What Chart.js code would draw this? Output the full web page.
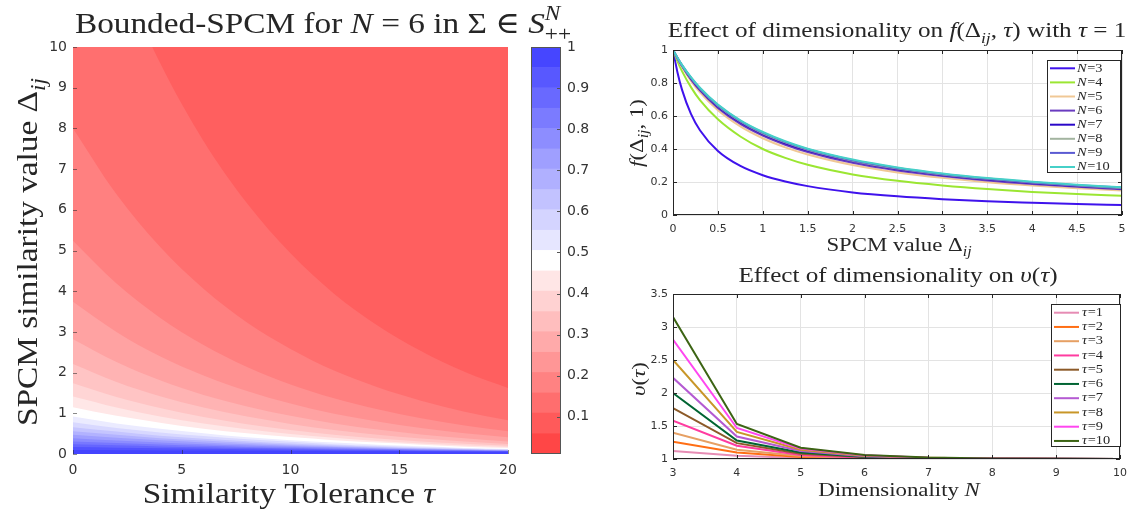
<!DOCTYPE html>
<html>
<head>
<meta charset="utf-8">
<script src="https://cdn.jsdelivr.net/npm/chart.js@4.4.1/dist/chart.umd.min.js"></script>
<style>
  html, body { margin: 0; padding: 0; background: #fff; }
  #wrap { position: relative; width: 1135px; height: 510px; overflow: hidden; }
  canvas { position: absolute; }
</style>
</head>
<body>
<div id="wrap">
  <canvas id="heat" width="600" height="510" style="left:0;top:0;width:600px;height:510px"></canvas>
  <canvas id="cbar" width="80" height="510" style="left:520px;top:0;width:80px;height:510px"></canvas>
  <canvas id="dim" width="535" height="260" style="left:600px;top:0;width:535px;height:260px"></canvas>
  <canvas id="ups" width="535" height="250" style="left:600px;top:260px;width:535px;height:250px"></canvas>
</div>
<script>
// ---- heatmap: contour boundaries Δ(τ) (top band first)
const tauGrid = [0, 2, 4, 6, 8, 10, 12, 14, 16, 18, 20];
const edge01 = [15, 12.0, 9.61, 7.69, 6.16, 4.93, 3.94, 3.16, 2.53, 2.02, 1.62];
const edge02 = [8.0, 6.38, 5.09, 4.06, 3.23, 2.58, 2.05, 1.64, 1.31, 1.04, 0.83];
const edge03 = [5.24, 4.19, 3.35, 2.68, 2.14, 1.71, 1.37, 1.10, 0.88, 0.70, 0.56];
const edge04 = [3.74, 3.00, 2.40, 1.93, 1.55, 1.24, 0.99, 0.80, 0.64, 0.51, 0.41];
const edge05 = [2.82, 2.26, 1.81, 1.45, 1.17, 0.94, 0.75, 0.60, 0.48, 0.39, 0.31];
const edge06 = [2.21, 1.77, 1.42, 1.14, 0.92, 0.74, 0.59, 0.47, 0.38, 0.31, 0.245];
const edge07 = [1.74, 1.40, 1.13, 0.91, 0.73, 0.59, 0.475, 0.38, 0.31, 0.25, 0.20];
const edge08 = [1.41, 1.14, 0.92, 0.75, 0.61, 0.49, 0.40, 0.32, 0.26, 0.21, 0.17];
const edge09 = [1.15, 0.94, 0.77, 0.62, 0.51, 0.415, 0.34, 0.28, 0.23, 0.18, 0.15];
const edge10 = [0.92, 0.75, 0.62, 0.51, 0.41, 0.34, 0.28, 0.23, 0.19, 0.15, 0.125];
const edge11 = [0.78, 0.64, 0.53, 0.44, 0.36, 0.30, 0.24, 0.20, 0.165, 0.136, 0.112];
const edge12 = [0.66, 0.55, 0.45, 0.377, 0.313, 0.26, 0.215, 0.179, 0.148, 0.123, 0.102];
const edge13 = [0.56, 0.47, 0.39, 0.33, 0.275, 0.23, 0.192, 0.161, 0.135, 0.112, 0.094];
const edge14 = [0.47, 0.40, 0.335, 0.283, 0.239, 0.202, 0.171, 0.144, 0.122, 0.103, 0.087];
const edge15 = [0.39, 0.333, 0.284, 0.242, 0.207, 0.177, 0.151, 0.129, 0.11, 0.094, 0.08];
const edge16 = [0.31, 0.269, 0.233, 0.202, 0.175, 0.152, 0.131, 0.114, 0.099, 0.085, 0.074];
const edge17 = [0.24, 0.212, 0.187, 0.164, 0.145, 0.128, 0.113, 0.099, 0.088, 0.077, 0.068];
const edge18 = [0.17, 0.154, 0.139, 0.126, 0.114, 0.103, 0.093, 0.084, 0.076, 0.069, 0.062];
const edge19 = [0.10, 0.094, 0.089, 0.084, 0.079, 0.074, 0.070, 0.066, 0.062, 0.058, 0.055];
const heatEdges = [edge01, edge02, edge03, edge04, edge05, edge06, edge07, edge08, edge09, edge10,
                   edge11, edge12, edge13, edge14, edge15, edge16, edge17, edge18, edge19];
// band colour above edge01, then the band under each edge
const heatColors = ['#ff5f5f', '#ff6f6f', '#ff8080', '#ff9191', '#ffa2a2', '#ffb3b3', '#ffc4c4',
  '#ffd5d5', '#ffe7e7', '#ffffff', '#ebebff', '#d8d8ff', '#c5c5ff', '#b2b2ff', '#9f9fff',
  '#8c8cff', '#7878ff', '#6565ff', '#5252ff', '#4444ff'];

// ---- colorbar
const cbarLevels = [0.0094, 0.059, 0.109, 0.158, 0.208, 0.257, 0.307, 0.356, 0.406, 0.455, 0.505,
  0.554, 0.604, 0.653, 0.703, 0.752, 0.802, 0.851, 0.901, 0.950, 1.0];
const cbarColors = ['#ff4646', '#ff5a5a', '#ff6e6e', '#ff8282', '#ff9696', '#ffaaaa', '#ffbebe',
  '#ffd2d2', '#ffe6e6', '#ffffff', '#e6e6ff', '#d4d4ff', '#c2c2ff', '#b0b0ff', '#9f9fff',
  '#8d8dff', '#7b7bff', '#6969ff', '#5858ff', '#4646ff'];
const cbarTicks = [0.1, 0.2, 0.3, 0.4, 0.5, 0.6, 0.7, 0.8, 0.9, 1];

// ---- f(Δ, 1) for N = 3..10
const deltaGrid = [0, 0.05, 0.1, 0.2, 0.3, 0.5, 0.75, 1, 1.25, 1.5, 2, 2.5, 3, 3.5, 4, 4.5, 5];
const fN3 = [1, 0.864, 0.760, 0.613, 0.514, 0.388, 0.297, 0.241, 0.203, 0.175, 0.137, 0.113, 0.096, 0.083, 0.074, 0.066, 0.060];
const fN4 = [1, 0.931, 0.872, 0.775, 0.696, 0.580, 0.476, 0.400, 0.346, 0.304, 0.246, 0.207, 0.179, 0.157, 0.140, 0.127, 0.116];
const fN5 = [1, 0.946, 0.897, 0.813, 0.743, 0.635, 0.537, 0.465, 0.410, 0.367, 0.303, 0.258, 0.225, 0.199, 0.179, 0.162, 0.148];
const fN6 = [1, 0.949, 0.903, 0.822, 0.755, 0.649, 0.552, 0.481, 0.426, 0.382, 0.316, 0.270, 0.236, 0.209, 0.188, 0.171, 0.156];
const fN7 = [1, 0.951, 0.906, 0.828, 0.762, 0.658, 0.562, 0.490, 0.435, 0.391, 0.325, 0.278, 0.243, 0.216, 0.194, 0.176, 0.161];
const fN8 = [1, 0.951, 0.907, 0.831, 0.766, 0.662, 0.567, 0.495, 0.440, 0.395, 0.329, 0.282, 0.246, 0.219, 0.197, 0.179, 0.164];
const fN9 = [1, 0.952, 0.909, 0.833, 0.768, 0.666, 0.570, 0.499, 0.443, 0.399, 0.332, 0.285, 0.249, 0.221, 0.199, 0.181, 0.166];
const fN10 = [1, 0.953, 0.910, 0.835, 0.771, 0.669, 0.574, 0.503, 0.447, 0.402, 0.336, 0.288, 0.252, 0.224, 0.202, 0.183, 0.168];
const dimSeries = [fN3, fN4, fN5, fN6, fN7, fN8, fN9, fN10];
const dimNames = ['3', '4', '5', '6', '7', '8', '9', '10'];
const dimColors = ['#3f12ec', '#9be632', '#f0c896', '#6a3cc0', '#2a08c8', '#a3b4a0', '#5a5ad2', '#46d0c8'];

// ---- υ(τ) against N for τ = 1..10
const dims = [3, 4, 5, 6, 7, 8, 9, 10];
const ups1 = [1.12, 1.05, 1.015, 1.005, 1.002, 1.0, 1.0, 1.0];
const ups2 = [1.26, 1.10, 1.03, 1.01, 1.004, 1.002, 1.0, 1.0];
const ups3 = [1.40, 1.14, 1.045, 1.015, 1.006, 1.003, 1.001, 1.0];
const ups4 = [1.58, 1.20, 1.06, 1.02, 1.008, 1.003, 1.001, 1.0];
const ups5 = [1.77, 1.24, 1.08, 1.03, 1.01, 1.004, 1.002, 1.001];
const ups6 = [2.00, 1.28, 1.10, 1.035, 1.013, 1.005, 1.002, 1.001];
const ups7 = [2.23, 1.34, 1.12, 1.04, 1.015, 1.006, 1.002, 1.001];
const ups8 = [2.50, 1.41, 1.14, 1.05, 1.018, 1.007, 1.003, 1.001];
const ups9 = [2.81, 1.47, 1.16, 1.055, 1.02, 1.008, 1.003, 1.001];
const ups10 = [3.15, 1.53, 1.17, 1.06, 1.023, 1.009, 1.003, 1.001];
const upsSeries = [ups1, ups2, ups3, ups4, ups5, ups6, ups7, ups8, ups9, ups10];
const upsNames = ['1', '2', '3', '4', '5', '6', '7', '8', '9', '10'];
const upsColors = ['#e68cb4', '#ff6e14', '#e6a064', '#ff3ca0', '#8c5a28', '#006432', '#b45ad2', '#c89628', '#ff46f0', '#3c6414'];

const SANS = "'DejaVu Sans', sans-serif";
const SERIF = "'Liberation Serif', 'DejaVu Serif', serif";
const INK = '#262626';

Chart.defaults.font.family = SANS;
Chart.defaults.color = '#333';
Chart.defaults.animation = false;

// text with italic / sub / sup pieces, centred on (x, y) baseline, widened a bit like LaTeX fonts
function drawRich(ctx, parts, x, y, size, rotate, stretch) {
  ctx.save();
  ctx.translate(x, y);
  if (rotate) ctx.rotate(-Math.PI / 2);
  ctx.scale(stretch || 1, 1);
  ctx.fillStyle = INK;
  ctx.textBaseline = 'alphabetic';
  ctx.textAlign = 'left';
  const laid = [];
  let cursor = 0, lastStart = 0;
  parts.forEach(([text, flags = '']) => {
    const small = flags.includes('sub') || flags.includes('sup');
    const px = small ? size * 0.7 : size;
    const font = (flags.includes('i') ? 'italic ' : '') + px.toFixed(1) + 'px ' + SERIF;
    ctx.font = font;
    const w = ctx.measureText(text).width;
    const start = flags.includes('stack') ? lastStart : cursor;
    const dy = flags.includes('sub') ? size * 0.26 : flags.includes('sup') ? -size * 0.45 : 0;
    laid.push({ text, font, x: start, dy });
    lastStart = start;
    cursor = Math.max(cursor, start + w);
  });
  laid.forEach(p => { ctx.font = p.font; ctx.fillText(p.text, p.x - cursor / 2, p.dy); });
  ctx.restore();
}

const labelsPlugin = (items) => ({
  id: 'labels',
  afterDraw(chart) {
    items.forEach(it => drawRich(chart.ctx, it.parts, it.x, it.y, it.size, it.rot, it.stretch));
  }
});

// MATLAB style box with inward ticks
const boxPlugin = (opts) => ({
  id: 'box',
  afterDatasetsDraw(chart) {
    const { ctx, chartArea: a, scales } = chart;
    ctx.save();
    ctx.strokeStyle = opts.color;
    ctx.lineWidth = 1;
    const L = opts.tick;
    ctx.beginPath();
    scales.x.ticks.forEach(t => {
      const px = Math.round(scales.x.getPixelForValue(t.value)) + 0.5;
      ctx.moveTo(px, a.bottom); ctx.lineTo(px, a.bottom - L);
      if (opts.all) { ctx.moveTo(px, a.top); ctx.lineTo(px, a.top + L); }
    });
    scales.y.ticks.forEach(t => {
      const py = Math.round(scales.y.getPixelForValue(t.value)) + 0.5;
      ctx.moveTo(a.left, py); ctx.lineTo(a.left + L, py);
      if (opts.all) { ctx.moveTo(a.right, py); ctx.lineTo(a.right - L, py); }
    });
    ctx.stroke();
    if (opts.frame) {
      ctx.strokeRect(Math.round(a.left) + 0.5, Math.round(a.top) + 0.5,
        Math.round(a.right - a.left) - 1, Math.round(a.bottom - a.top) - 1);
    }
    ctx.restore();
  }
});

const legendPlugin = (opts) => ({
  id: 'mlegend',
  afterDraw(chart) {
    const ctx = chart.ctx;
    ctx.save();
    ctx.fillStyle = '#fff';
    ctx.fillRect(opts.x, opts.y, opts.w, opts.h);
    ctx.strokeStyle = INK;
    ctx.lineWidth = 1;
    ctx.strokeRect(opts.x + 0.5, opts.y + 0.5, opts.w - 1, opts.h - 1);
    chart.data.datasets.forEach((ds, i) => {
      const yy = opts.y0 + i * opts.dy;
      ctx.strokeStyle = ds.borderColor;
      ctx.lineWidth = 2;
      ctx.beginPath();
      ctx.moveTo(opts.lx0, yy); ctx.lineTo(opts.lx1, yy);
      ctx.stroke();
      ctx.save();
      ctx.translate(opts.tx, yy);
      ctx.scale(1.15, 1);
      ctx.fillStyle = INK;
      ctx.textBaseline = 'middle';
      ctx.font = 'italic ' + opts.size + 'px ' + SERIF;
      ctx.fillText(opts.sym, 0, 0);
      const w = ctx.measureText(opts.sym).width;
      ctx.font = opts.size + 'px ' + SERIF;
      ctx.fillText('=' + ds.label, w + 0.5, 0);
      ctx.restore();
    });
    ctx.restore();
  }
});

const fmt = v => String(Math.round(v * 100) / 100);

// ---------------- heatmap (filled contour bands)
const heatDatasets = heatEdges.map((edge, k) => ({
  data: tauGrid.map((t, i) => ({ x: t, y: edge[i] })),
  borderWidth: 0,
  borderColor: 'transparent',
  pointRadius: 0,
  fill: 'origin',
  backgroundColor: heatColors[k + 1],
  cubicInterpolationMode: 'monotone'
})).reverse();

new Chart(document.getElementById('heat'), {
  type: 'line',
  data: { datasets: heatDatasets },
  options: {
    responsive: false,
    events: [],
    layout: { autoPadding: false, padding: { left: 0, top: 47, right: 92, bottom: 26 } },
    plugins: { legend: { display: false }, tooltip: { enabled: false } },
    scales: {
      x: {
        type: 'linear', min: 0, max: 20,
        afterFit: s => { s.height = 30; },
        ticks: { stepSize: 5, font: { size: 14 }, padding: 8, color: '#333' },
        grid: { display: false, drawTicks: false },
        border: { display: false }
      },
      y: {
        type: 'linear', min: 0, max: 10,
        afterFit: s => { s.width = 73; },
        ticks: { stepSize: 1, font: { size: 14 }, padding: 6, color: '#333' },
        grid: { display: false, drawTicks: false },
        border: { display: false }
      }
    }
  },
  plugins: [
    {
      id: 'heatBg',
      beforeDatasetsDraw(chart) {
        const { ctx, chartArea: a } = chart;
        ctx.save();
        ctx.fillStyle = heatColors[0];
        ctx.fillRect(a.left, a.top, a.right - a.left, a.bottom - a.top);
        ctx.restore();
      }
    },
    boxPlugin({ color: 'rgba(40,40,40,0.55)', tick: 4, all: false, frame: false }),
    labelsPlugin([
      { parts: [['Bounded-SPCM for '], ['N', 'i'], [' = 6 in Σ ∈ '], ['S', 'i'], ['N', 'i sup'], ['++', 'sub stack']],
        x: 323, y: 33, size: 30, stretch: 1.11 },
      { parts: [['Similarity Tolerance '], ['τ', 'i']], x: 289, y: 503, size: 30, stretch: 1.11 },
      { parts: [['SPCM similarity value Δ'], ['ij', 'i sub']], x: 37, y: 252, size: 30, rot: true, stretch: 1.11 }
    ])
  ]
});

// ---------------- colorbar
new Chart(document.getElementById('cbar'), {
  type: 'bar',
  data: {
    labels: [''],
    datasets: cbarColors.map((c, k) => ({
      data: [[cbarLevels[k], cbarLevels[k + 1]]],
      backgroundColor: c,
      borderWidth: 0,
      grouped: false,
      barPercentage: 1,
      categoryPercentage: 1
    }))
  },
  options: {
    responsive: false,
    events: [],
    layout: { autoPadding: false, padding: { left: 11, top: 47, right: 0, bottom: 56 } },
    plugins: { legend: { display: false }, tooltip: { enabled: false } },
    scales: {
      x: { display: false },
      y: {
        position: 'right', min: cbarLevels[0], max: 1,
        afterFit: s => { s.width = 39; },
        afterBuildTicks: s => { s.ticks = cbarTicks.map(v => ({ value: v })); },
        ticks: { font: { size: 14 }, padding: 6, color: '#333', callback: fmt },
        grid: { display: false, drawTicks: false },
        border: { display: false }
      }
    }
  },
  plugins: [{
    id: 'cbarFrame',
    afterDatasetsDraw(chart) {
      const { ctx, chartArea: a, scales } = chart;
      ctx.save();
      ctx.strokeStyle = '#555';
      ctx.lineWidth = 1;
      ctx.strokeRect(Math.round(a.left) + 0.5, Math.round(a.top) + 0.5,
        Math.round(a.right - a.left) - 1, Math.round(a.bottom - a.top) - 1);
      ctx.beginPath();
      scales.y.ticks.forEach(t => {
        const py = Math.round(scales.y.getPixelForValue(t.value)) + 0.5;
        ctx.moveTo(a.right, py); ctx.lineTo(a.right - 4, py);
      });
      ctx.stroke();
      ctx.restore();
    }
  }]
});

// ---------------- f(Δ, 1) by dimension
new Chart(document.getElementById('dim'), {
  type: 'line',
  data: {
    datasets: dimSeries.map((s, k) => ({
      label: dimNames[k],
      data: deltaGrid.map((d, i) => ({ x: d, y: s[i] })),
      borderColor: dimColors[k],
      borderWidth: 2,
      pointRadius: 0,
      fill: false,
      cubicInterpolationMode: 'monotone',
      order: -k
    }))
  },
  options: {
    responsive: false,
    events: [],
    layout: { autoPadding: false, padding: { left: 0, top: 50, right: 13, bottom: 20 } },
    plugins: { legend: { display: false }, tooltip: { enabled: false } },
    scales: {
      x: {
        type: 'linear', min: 0, max: 5,
        afterFit: s => { s.height = 25; },
        ticks: { stepSize: 0.5, font: { size: 11 }, padding: 8, color: '#333', callback: fmt },
        grid: { color: '#e3e3e3', drawTicks: false },
        border: { display: false }
      },
      y: {
        type: 'linear', min: 0, max: 1,
        afterFit: s => { s.width = 73; },
        ticks: { stepSize: 0.2, font: { size: 11 }, padding: 5, color: '#333', callback: fmt },
        grid: { color: '#e3e3e3', drawTicks: false },
        border: { display: false }
      }
    }
  },
  plugins: [
    boxPlugin({ color: INK, tick: 4, all: true, frame: true }),
    legendPlugin({ x: 447, y: 60, w: 74, h: 113, y0: 68.3, dy: 14.1, lx0: 450, lx1: 475, tx: 477, size: 12.5, sym: 'N' }),
    labelsPlugin([
      { parts: [['Effect of dimensionality on '], ['f', 'i'], ['(Δ'], ['ij', 'i sub'], [', '], ['τ', 'i'], [') with '], ['τ', 'i'], [' = 1']],
        x: 297, y: 37, size: 21.5, stretch: 1.17 },
      { parts: [['SPCM value Δ'], ['ij', 'i sub']], x: 299, y: 251, size: 19.5, stretch: 1.17 },
      { parts: [['f', 'i'], ['(Δ'], ['ij', 'i sub'], [', 1)']], x: 43, y: 133, size: 19.5, rot: true, stretch: 1.17 }
    ])
  ]
});

// ---------------- υ(τ) by dimension
new Chart(document.getElementById('ups'), {
  type: 'line',
  data: {
    datasets: upsSeries.map((s, k) => ({
      label: upsNames[k],
      data: dims.map((n, i) => ({ x: n, y: s[i] })),
      borderColor: upsColors[k],
      borderWidth: 2,
      pointRadius: 0,
      fill: false,
      tension: 0,
      order: -k
    }))
  },
  options: {
    responsive: false,
    events: [],
    layout: { autoPadding: false, padding: { left: 0, top: 34, right: 13, bottom: 26 } },
    plugins: { legend: { display: false }, tooltip: { enabled: false } },
    scales: {
      x: {
        type: 'linear', min: 3, max: 10,
        afterFit: s => { s.height = 25; },
        ticks: { stepSize: 1, font: { size: 11 }, padding: 8, color: '#333', callback: fmt },
        grid: { color: '#e3e3e3', drawTicks: false },
        border: { display: false }
      },
      y: {
        type: 'linear', min: 1, max: 3.5,
        afterFit: s => { s.width = 73; },
        ticks: { stepSize: 0.5, font: { size: 11 }, padding: 5, color: '#333', callback: fmt },
        grid: { color: '#e3e3e3', drawTicks: false },
        border: { display: false }
      }
    }
  },
  plugins: [
    boxPlugin({ color: INK, tick: 4, all: true, frame: true }),
    legendPlugin({ x: 451, y: 44, w: 70, h: 143, y0: 52.7, dy: 14.25, lx0: 454, lx1: 479, tx: 482, size: 12.5, sym: 'τ' }),
    labelsPlugin([
      { parts: [['Effect of dimensionality on '], ['υ', 'i'], ['('], ['τ', 'i'], [')']], x: 298, y: 22, size: 21.5, stretch: 1.17 },
      { parts: [['Dimensionality '], ['N', 'i']], x: 299, y: 236, size: 19.5, stretch: 1.17 },
      { parts: [['υ', 'i'], ['('], ['τ', 'i'], [')']], x: 45, y: 119, size: 19.5, rot: true, stretch: 1.17 }
    ])
  ]
});
</script>
</body>
</html>
